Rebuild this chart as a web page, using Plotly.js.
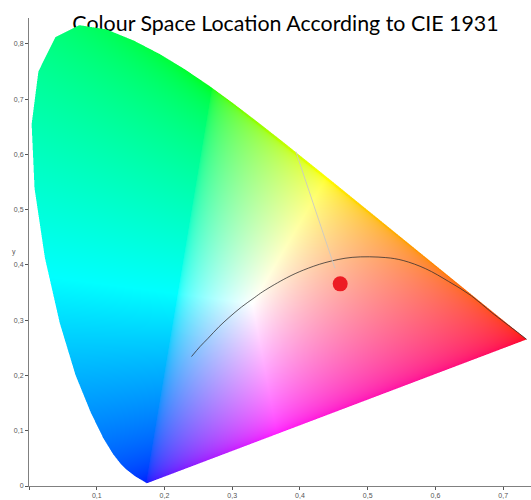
<!DOCTYPE html>
<html>
<head>
<meta charset="utf-8">
<script src="https://cdn.plot.ly/plotly-3.0.1.min.js"></script>
<style>html,body{margin:0;padding:0;background:#fff}#chart{width:531px;height:500px}</style>
</head>
<body>
<div id="chart"></div>
<script>
// Gamut boundary
var locusX = [.1741,.1566,.1440,.1355,.1241,.1096,.0913,.0687,.0454,.0235,.0082,.0039,.0139,.0389,.0743,.1142,.1547,.1929,.2296,.2658,.3016,.3373,.3731,.4441,.5125,.6270,.6915,.7260,.7347];
var locusY = [.0050,.0177,.0297,.0399,.0578,.0868,.1327,.2007,.2950,.4127,.5384,.6548,.7502,.8120,.8338,.8262,.8059,.7816,.7543,.7243,.6923,.6589,.6245,.5547,.4866,.3725,.3083,.2740,.2653];
// Black-body curve
var curveX = [.2399,.2525,.2637,.2807,.2952,.3135,.3324,.3451,.3805,.4052,.4369,.4770,.5267,.5524,.5857,.6196,.6528,.6829,.7160,.7347];
var curveY = [.2342,.2523,.2664,.2884,.3048,.3237,.3405,.3516,.3768,.3907,.4041,.4137,.4133,.4080,.3931,.3700,.3444,.3140,.2830,.2653];
// Grey leader and the measured point
var leaderX = [.394,.4516];
var leaderY = [.605,.394];
var pointX = [.4594];
var pointY = [.3658];
// Axis ticks
var xTickVals = [0,.1,.2,.3,.4,.5,.6,.7];
var xTickText = ['','0,1','0,2','0,3','0,4','0,5','0,6','0,7'];
var yTickVals = [0,.1,.2,.3,.4,.5,.6,.7,.8];
var yTickText = ['0','0,1','0,2','0,3','0,4','0,5','0,6','0,7','0,8'];
// Colour model of the diagram
var primaryR = [.7347,.2653], primaryG = [.27,.72], primaryB = [.172,.0], whitePt = [.33,.33];
var gammaR = 0.45, gammaG = 0.45, gammaB = 0.34;

var PLOT_W = 501.7, PLOT_H = 468.3;
var xMax = 0.7411, yMax = 0.8468;
var nx = Math.round(PLOT_W), ny = Math.round(PLOT_H);
var dx = xMax / nx, dy = yMax / ny;

function bary(px, py) {
  var x1=primaryR[0],y1=primaryR[1],x2=primaryG[0],y2=primaryG[1],x3=primaryB[0],y3=primaryB[1];
  var d=(y2-y3)*(x1-x3)+(x3-x2)*(y1-y3);
  var a=((y2-y3)*(px-x3)+(x3-x2)*(py-y3))/d;
  var b=((y3-y1)*(px-x3)+(x1-x3)*(py-y3))/d;
  return [a,b,1-a-b];
}
var w0 = bary(whitePt[0], whitePt[1]);
function inside(px, py) {
  var c=false, n=locusX.length;
  for (var i=0,j=n-1;i<n;j=i++) {
    if ((locusY[i]>py)!==(locusY[j]>py) &&
        px < (locusX[j]-locusX[i])*(py-locusY[i])/(locusY[j]-locusY[i])+locusX[i]) c=!c;
  }
  return c;
}
var field = [];
for (var r=0;r<ny;r++) {
  var row=[];
  var yc=(r+.5)*dy;
  for (var c=0;c<nx;c++) {
    var xc=(c+.5)*dx, hits=0;
    for (var si=-1;si<=1;si++) for (var sj=-1;sj<=1;sj++)
      if (inside(xc+si*dx/3, yc+sj*dy/3)) hits++;
    if (!hits) { row.push([255,255,255,0]); continue; }
    var w=bary(xc,yc);
    var R=Math.max(0,w[0]/w0[0]),G=Math.max(0,w[1]/w0[1]),B=Math.max(0,w[2]/w0[2]);
    var m=Math.max(R,G,B)||1;
    row.push([255*Math.pow(R/m,gammaR),255*Math.pow(G/m,gammaG),255*Math.pow(B/m,gammaB),hits/9]);
  }
  field.push(row);
}

var traces = [
  {type:'image', z:field, colormodel:'rgba', x0:dx/2, dx:dx, y0:dy/2, dy:dy, hoverinfo:'skip'},
  {type:'scatter', mode:'lines', x:curveX, y:curveY, line:{color:'rgba(45,45,45,0.85)',width:0.9,shape:'spline'}, hoverinfo:'skip'},
  {type:'scatter', mode:'lines', x:leaderX, y:leaderY, line:{color:'rgba(200,200,200,0.85)',width:1}, hoverinfo:'skip'},
  {type:'scatter', mode:'markers', x:pointX, y:pointY, marker:{color:'#ed1c24',size:15,line:{width:0}}, hoverinfo:'skip'}
];
var axisCommon = {showgrid:false, zeroline:false, showline:true, linecolor:'#808080', linewidth:1,
  ticks:'outside', ticklen:3, tickwidth:1, tickcolor:'#555', tickfont:{family:'Liberation Sans',size:7,color:'#555'}, automargin:false};
var layout = {
  width:531, height:500, showlegend:false, paper_bgcolor:'#fff', plot_bgcolor:'rgba(0,0,0,0)',
  margin:{l:29.3,r:0,t:18,b:13.7},
  title:{text:'Colour Space Location According to CIE 1931', font:{family:'Lato',size:21.4,color:'#000'},
         x:285.5/531, xanchor:'center', y:1-24/500, yanchor:'middle'},
  xaxis:Object.assign({}, axisCommon, {range:[0,xMax], constrain:'range', tickmode:'array', tickvals:xTickVals, ticktext:xTickText}),
  yaxis:Object.assign({}, axisCommon, {range:[0,yMax], scaleanchor:false, constrain:'range', tickmode:'array', tickvals:yTickVals, ticktext:yTickText}),
  annotations:[{text:'y', xref:'paper', yref:'paper', x:(14-29.3)/501.7, y:(486.3-252)/468.3, xanchor:'center', yanchor:'middle',
    showarrow:false, font:{family:'Liberation Sans',size:7,color:'#555'}}]
};
Plotly.newPlot('chart', traces, layout, {displayModeBar:false, staticPlot:true}).then(function(gd){
  // The diagram sits over the title in the reference
  var t = gd.querySelector('.gtitle');
  var base = gd.querySelector('.main-svg .cartesianlayer');
  if (t && base) base.parentNode.insertBefore(t, base);
});
</script>
</body>
</html>
